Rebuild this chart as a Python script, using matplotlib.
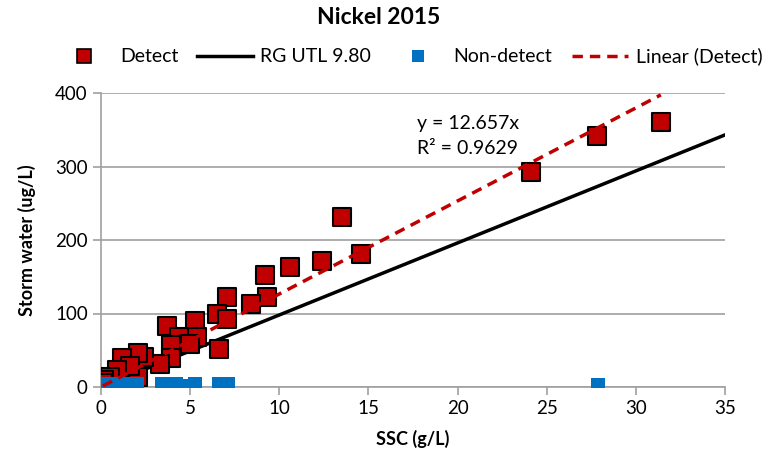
import matplotlib.pyplot as plt
import numpy as np
from matplotlib.lines import Line2D

plt.rcParams['font.family'] = ['Lato', 'DejaVu Sans']

# Detect samples (SSC g/L, storm water ug/L)
detect_x = [31.4, 27.8, 24.1, 13.5, 14.6, 12.4, 10.6, 9.2, 9.3, 8.4, 7.05, 6.5, 7.05,
            5.3, 6.6, 3.7, 4.4, 5.4, 3.9, 5.0, 3.9, 3.3, 2.4, 2.1, 1.2, 2.1, 1.6,
            0.9, 0.5, 0.15, 0.1]
detect_y = [361, 342, 292, 231, 181, 172, 163, 152, 122, 113, 122, 99, 92,
            90, 52, 83, 68, 68, 57, 59, 40, 31, 41, 46, 40, 14, 28,
            23, 14, 10, 6]

# Non-detect samples
nd_x = [0.3, 0.8, 1.3, 1.8, 2.0, 3.4, 3.8, 4.2, 4.7, 5.3, 6.6, 7.1, 27.85]
nd_y = [4, 4, 4, 4, 4, 4, 4, 4, 2, 4, 4, 4, 3]

utl = 9.80
slope = 12.657
r2 = 0.9629

W, H = 770, 461
fig = plt.figure(figsize=(W / 100, H / 100), dpi=100)
ax = fig.add_axes([101 / W, 1 - 387 / H, 624 / W, 294 / H])

red = '#C00000'
blue = '#0070C0'
gray = '#A0A0A0'
dash = (0, (3, 2))

xl = np.array([0, 35])
ax.plot(xl, utl * xl, color='black', lw=2.5, zorder=2)
ax.scatter(detect_x, detect_y, s=150, marker='s', color=red, edgecolors='black',
           linewidths=1.5, zorder=3)
ax.scatter(nd_x, nd_y, s=90, marker='s', color=blue, linewidths=0, zorder=4)
xt = np.array([min(detect_x), max(detect_x)])
ax.plot(xt, slope * xt, color=red, lw=2.5, ls=dash, zorder=5)

ax.text(17.7, 359, 'y = 12.657x', fontsize=14, va='center')
ax.text(17.7, 325, 'R² = %.4f' % r2, fontsize=14, va='center')

ax.set_xlim(0, 35)
ax.set_ylim(0, 400)
ax.set_xticks(range(0, 36, 5))
ax.set_yticks(range(0, 401, 100))
ax.yaxis.grid(True, color=gray, lw=1.2)
ax.set_axisbelow(True)
for s in ['top', 'right']:
    ax.spines[s].set_visible(False)
for s in ['left', 'bottom']:
    ax.spines[s].set_color(gray)
    ax.spines[s].set_linewidth(1.2)
ax.tick_params(colors=gray, labelcolor='black', labelsize=13.5, length=6, width=1.2)
ax.set_xlabel('SSC (g/L)', fontsize=13, fontweight='bold', labelpad=9)
ax.set_ylabel('Storm water (ug/L)', fontsize=13, fontweight='bold', labelpad=14)

fig.text(379 / W, 1 - 18 / H, 'Nickel 2015', fontsize=16.5, fontweight='bold',
         ha='center', va='center')

# legend row, laid out like the Excel one
ly = 1 - 56 / H
fig.add_artist(Line2D([84 / W], [ly], ls='none', marker='s', markersize=10.5,
                      markerfacecolor=red, markeredgecolor='black', markeredgewidth=1.2))
fig.add_artist(Line2D([197 / W, 253 / W], [ly, ly], color='black', lw=2.5))
fig.add_artist(Line2D([417.5 / W], [ly], ls='none', marker='s', markersize=8.6,
                      markerfacecolor=blue, markeredgewidth=0))
fig.add_artist(Line2D([572 / W, 628 / W], [ly, ly], color=red, lw=2.5, ls=dash))
for x0, lab in [(120, 'Detect'), (260, 'RG UTL 9.80'), (453, 'Non-detect'),
                (636, 'Linear (Detect)')]:
    fig.text(x0 / W, ly, lab, fontsize=14, va='center')

fig.savefig('out.png', dpi=100)
